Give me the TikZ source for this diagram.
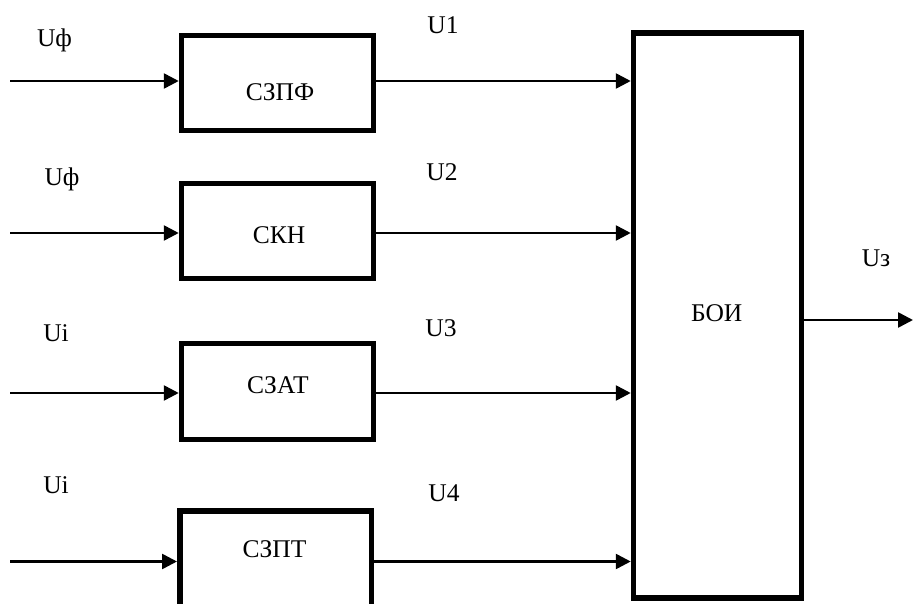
\documentclass[tikz,border=0pt]{standalone}
\usepackage{fontspec}
\setmainfont{Liberation Serif}
\usetikzlibrary{arrows.meta}
\begin{document}
\begin{tikzpicture}[x=1pt,y=-1pt,
  blk/.style={draw=black,line width=5.5pt,rectangle,inner sep=0pt},
  lbl/.style={anchor=base,inner sep=0pt,font=\fontsize{25.5}{30}\selectfont},
  conn/.style={line width=2.6pt,-{Triangle[length=15pt,width=15pt]}}]
\useasboundingbox (0,0) rectangle (913,604);
\clip (0,0) rectangle (913,604);
% blocks
\node[blk,minimum width=192pt,minimum height=95pt] (b1) at (277.5,83) {};
\node[blk,minimum width=192pt,minimum height=95pt] (b2) at (277.5,231) {};
\node[blk,minimum width=192pt,minimum height=96pt] (b3) at (277.5,391.5) {};
\node[blk,minimum width=191.5pt,minimum height=200pt] (b4) at (275.5,611) {};
\node[blk,minimum width=168pt,minimum height=565pt] (boi) at (717.5,315.5) {};
% block texts
\node[lbl] (t1) at (280,101) {СЗПФ};
\node[lbl] (t2) at (279,243.5) {СКН};
\node[lbl] (t3) at (278,393) {СЗАТ};
\node[lbl] (t4) at (274.5,557.5) {СЗПТ};
\node[lbl] (t5) at (716.7,321.5) {БОИ};
% signal labels
\node[lbl] (l1) at (54.5,46.5) {Uф};
\node[lbl] (l2) at (62,186) {Uф};
\node[lbl] (l3) at (56,341.5) {Ui};
\node[lbl] (l4) at (56,493.5) {Ui};
\node[lbl] (o1) at (443,33.5) {U1};
\node[lbl] (o2) at (442,180.5) {U2};
\node[lbl] (o3) at (441,336.5) {U3};
\node[lbl] (o4) at (444,501.5) {U4};
\node[lbl] (oz) at (876,266.5) {Uз};
% connector coordinates
\coordinate (i1) at (10,81);
\coordinate (i2) at (10,233);
\coordinate (i3) at (10,393);
\coordinate (i4) at (10,561.5);
\coordinate (out) at (913,320);
% inputs
\draw[conn] (i1) -- (i1 -| b1.west);
\draw[conn] (i2) -- (i2 -| b2.west);
\draw[conn] (i3) -- (i3 -| b3.west);
\draw[conn] (i4) -- (i4 -| b4.west);
% to BOI
\draw[conn] (i1 -| b1.east) -- (i1 -| boi.west);
\draw[conn] (i2 -| b2.east) -- (i2 -| boi.west);
\draw[conn] (i3 -| b3.east) -- (i3 -| boi.west);
\draw[conn] (i4 -| b4.east) -- (i4 -| boi.west);
% output
\draw[conn] (out -| boi.east) -- (out);
\end{tikzpicture}
\end{document}
